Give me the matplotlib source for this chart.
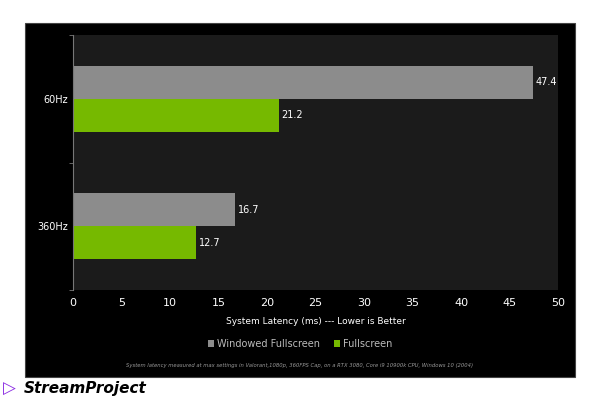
import matplotlib
matplotlib.use("Agg")
import matplotlib.pyplot as plt
from matplotlib.patches import Rectangle
import numpy as np

categories = ["60Hz", "360Hz"]
windowed = [47.4, 16.7]
fullscreen = [21.2, 12.7]
xticks = [0, 5, 10, 15, 20, 25, 30, 35, 40, 45, 50]

fig = plt.figure(figsize=(6, 4), dpi=100)
fig.patch.set_facecolor("white")
fig.patches.append(Rectangle((25/600, 23/400), 550/600, 354/400, transform=fig.transFigure,
                             facecolor="black", edgecolor="#444444", lw=0.8, zorder=-10))
ax = fig.add_axes([73/600, 1-290/400, 485/600, 255/400])
ax.set_zorder(1)
ax.set_facecolor("#1b1b1b")
y = np.arange(len(categories))
h = 0.26
ax.barh(y - h/2, windowed, height=h, color="#8c8c8c", label="Windowed Fullscreen")
ax.barh(y + h/2, fullscreen, height=h, color="#76b900", label="Fullscreen")
for i in range(len(categories)):
    ax.text(windowed[i] + 0.3, y[i] - h/2, f"{windowed[i]}", color="white", va="center", fontsize=7)
    ax.text(fullscreen[i] + 0.3, y[i] + h/2, f"{fullscreen[i]}", color="white", va="center", fontsize=7)
ax.set_ylim(1.5, -0.5)
ax.set_xlim(0, 50)
ax.set_yticks(y)
ax.set_yticklabels(categories, color="white", fontsize=7)
ax.set_yticks([-0.5, 0.5, 1.5], minor=True)
ax.tick_params(axis="y", which="major", length=0)
ax.tick_params(axis="y", which="minor", length=3, color="#777777")
ax.set_xticks(xticks)
ax.set_xticklabels([str(t) for t in xticks], color="white", fontsize=8)
ax.tick_params(axis="x", length=0, pad=6)
for s in ["top", "right", "bottom"]:
    ax.spines[s].set_visible(False)
ax.spines["left"].set_color("#777777")
ax.set_xlabel("System Latency (ms) --- Lower is Better", color="white", fontsize=6.5, labelpad=6)
leg = fig.legend(loc="center", bbox_to_anchor=(0.5, 1-344/400), ncol=2, frameon=False,
                 fontsize=7, handlelength=0.6, handleheight=0.6, columnspacing=1.5, handletextpad=0.3)
for t in leg.get_texts():
    t.set_color("#bbbbbb")
fig.text(0.5, 1-366/400, "System latency measured at max settings in Valorant,1080p, 360FPS Cap, on a RTX 3080, Core i9 10900k CPU, Windows 10 (2004)",
         color="#999999", fontsize=3.8, style="italic", ha="center", va="center")
fig.text(0.005, 1-389/400, "▷", color="#8a2be2", fontsize=12, ha="left", va="center")
fig.text(0.04, 1-389/400, "StreamProject", color="black", fontsize=11, fontweight="bold", style="italic",
         ha="left", va="center")
fig.savefig("out.png", dpi=100)
